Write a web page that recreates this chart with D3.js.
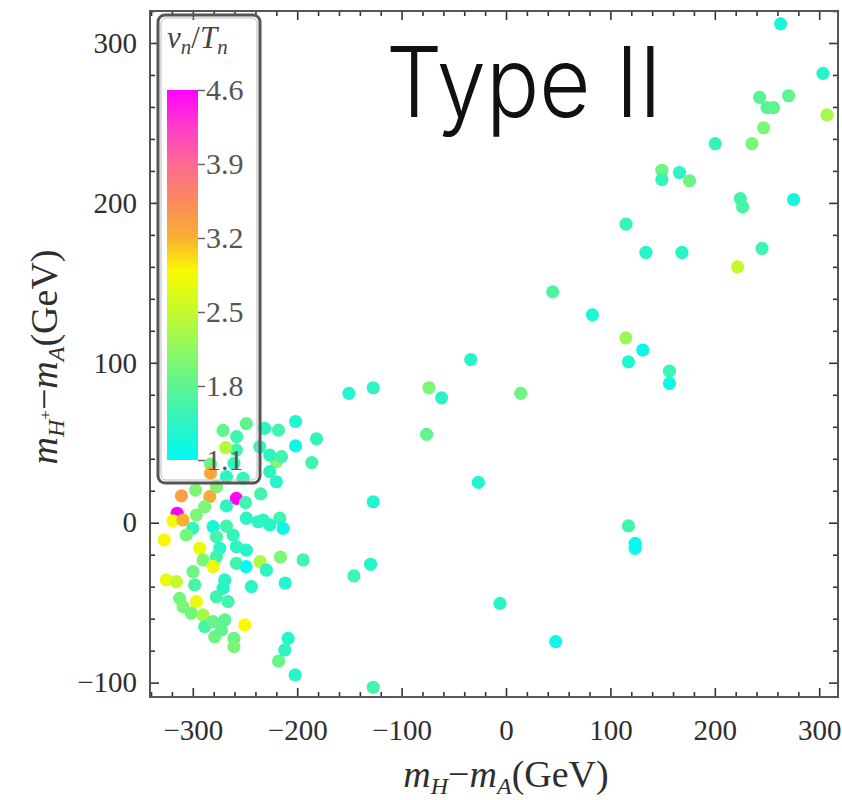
<!DOCTYPE html>
<html>
<head>
<meta charset="utf-8">
<script src="https://cdn.jsdelivr.net/npm/d3@7"></script>
<style>
  html, body { margin: 0; padding: 0; background: #fff; }
  svg { display: block; }
</style>
</head>
<body>
<svg id="chart" width="842" height="800"></svg>
<script>
// m_H - m_A (GeV)
const massSplitHA = [
  263, 303.6, 307.5, 242.9, 270.7, 250, 256.3, 246.7, 200.4, 235.6,
  149.3, 149.3, 166.2, 175.8, 224.4, 226.6, 275.5, 115, 134, 168.5,
  245.2, 221.8, 44.7, 82.7, 114.8, 131, 117.3, 156.6, 156.6, -33.8,
  -150.5, -127.2, -73.8, -61.7, 14.1, -76, -26.5, -127.2, 117.3, 123.7,
  123.7, -129.7, -145.7, -5.8, 47.6, -127.2,
  -201.6, -181.5, -201.6, -186, -218, -231.1, -248.7, -271, -258, -258.3,
  -235.9, -220, -226.3, -215, -226.3, -220, -268.5, -283, -260.6, -267.8,
  -251.8, -283, -277.4, -297.4, -310.9, -283.8, -258.3, -267.8, -249.5, -235,
  -288.6, -296.6, -315, -319, -309.4, -300, -280.6, -267.8, -248.7, -232.7,
  -216.7, -213.5, -226.3, -237.5, -306.2, -327.3, -293.4, -277.4, -261.4, -274.2,
  -258.3, -248.7, -290.2, -277.4, -280.6, -258.3, -249, -235.5, -229.5, -216,
  -194.3, -243.9, -211.5, -299.8, -325.3, -315.7, -298.2, -269.4, -271, -312.6,
  -296.6, -277.4, -266.2, -309.4, -301.4, -290.2, -288.6, -280.6, -269.4, -250.2,
  -279, -272.6, -260.6, -260.6, -208.7, -211.9, -217.8, -202
];

// m_{H+} - m_A (GeV)
const massSplitHcA = [
  312, 281, 255, 266, 267, 259.6, 259.6, 247, 237, 237,
  220.4, 214.6, 219, 213.8, 202.7, 197.5, 202, 186.7, 169, 169,
  171.5, 160, 144.4, 130, 115.6, 108, 100.6, 94.8, 87.1, 102,
  80.9, 84.4, 84.4, 78.1, 80.9, 55.2, 25.2, 13.1, -2, -12.9,
  -16, -26, -33.3, -50.4, -74.4, -102.9,
  63.3, 52.5, 48, 37.6, 57.9, 59, 62, 57.7, 53.8, 45.4,
  47.5, 38.1, 42.3, 41.3, 31.9, 25.6, 47, 36.6, 37.1, 28.8,
  27.8, 31, 22.5, 20.4, 16.8, 16.3, 15.2, 10.5, 12.6, 18,
  10, 4.8, 5.9, 1.2, 1.7, -3.5, -2.5, -2.1, 2.8, 1.7,
  2.8, -3.5, -1.4, 0.6, -7.7, -10.8, -16, -8.8, -7.7, -16,
  -15, -17.1, -23.3, -21.3, -27.5, -25.4, -27.5, -24.4, -29.6, -21.5,
  -23.3, -40, -37.7, -30.6, -35.8, -36.9, -38.9, -35.8, -41, -47.3,
  -49.4, -46.3, -49.4, -52.5, -56.6, -57.7, -65, -61.9, -60.8, -63.9,
  -71.3, -67.1, -72.3, -77.5, -72.3, -79.6, -86.6, -95.2
];

// v_n / T_n
const strength = [
  1.3, 1.4, 2.3, 1.75, 1.8, 1.75, 1.8, 2.0, 1.5, 2.0,
  1.9, 1.5, 1.45, 1.9, 1.6, 1.65, 1.25, 1.5, 1.4, 1.4,
  1.55, 2.5, 1.7, 1.3, 2.2, 1.2, 1.35, 1.55, 1.2, 1.4,
  1.35, 1.45, 2.0, 1.4, 1.9, 1.8, 1.35, 1.35, 1.6, 1.15,
  1.15, 1.4, 1.55, 1.4, 1.2, 1.6,
  1.35, 1.5, 1.2, 1.6, 1.6, 1.45, 1.8, 1.8, 1.6, 1.6,
  1.5, 2.1, 1.45, 1.6, 1.45, 1.4, 2.4, 1.9, 1.5, 1.45,
  1.5, 3.3, 2.0, 2.0, 3.35, 3.25, 4.55, 1.45, 1.55, 1.6,
  2.0, 2.0, 4.6, 2.85, 3.2, 1.5, 1.3, 1.6, 1.45, 1.45,
  1.55, 1.2, 1.4, 1.45, 1.95, 2.9, 2.8, 1.6, 1.5, 1.4,
  1.45, 1.4, 2.0, 1.6, 2.8, 1.6, 1.15, 2.35, 1.45, 2.0,
  1.6, 1.4, 1.35, 1.9, 2.8, 2.5, 1.65, 1.45, 1.4, 1.95,
  2.8, 1.6, 1.6, 2.0, 1.95, 2.3, 1.65, 1.85, 1.8, 2.85,
  1.9, 1.8, 1.9, 2.0, 1.4, 1.45, 1.85, 1.4
];

const xTicks = [-300, -200, -100, 0, 100, 200, 300];
const yTicks = [-100, 0, 100, 200, 300];
const barTicks = [1.1, 1.8, 2.5, 3.2, 3.9, 4.6];

// colour ramp for v_n/T_n
const rampValues = [1.1, 1.45, 1.8, 2.15, 2.5, 2.88, 3.2, 3.55, 3.9, 4.25, 4.6];
const rampColors = ["#00faf4", "#2ef4c2", "#5ef490", "#90f862", "#c4fa2c", "#fafa00",
                    "#f8b032", "#fa8a5c", "#ff6a92", "#ff3ec8", "#ff00ff"];

const svg = d3.select("#chart");
const plotL = 150, plotR = 838, plotT = 11, plotB = 697;

const x = d3.scaleLinear().domain([-341, 318]).range([plotL, plotR]);
const y = d3.scaleLinear().domain([-109, 320]).range([plotB, plotT]);
const color = d3.scaleLinear().domain(rampValues).range(rampColors).clamp(true);

const serif = "'Liberation Serif', 'Times New Roman', 'DejaVu Serif', serif";

// data points
const points = massSplitHA.map((d, i) => ({ dx: d, dy: massSplitHcA[i], v: strength[i] }));
svg.append("g")
  .selectAll("circle")
  .data(points)
  .join("circle")
  .attr("cx", d => x(d.dx))
  .attr("cy", d => y(d.dy))
  .attr("r", 6.6)
  .attr("fill", d => color(d.v));

// frame ticks (inward, on all four sides)
const minorOf = (lo, hi, step, majors) => d3.range(lo, hi + 0.001, step).filter(v => !majors.includes(v));
const xMinor = minorOf(-340, 300, 20, xTicks);
const yMinor = minorOf(-100, 320, 20, yTicks);

function styleAxis(g) {
  g.select(".domain").remove();
  g.selectAll("line").attr("stroke", "#333").attr("stroke-width", 1.6);
  g.selectAll("text").attr("font-family", serif).attr("font-size", 29).attr("fill", "#2e2e2e");
}

svg.append("g").attr("transform", `translate(0,${plotB})`)
  .call(d3.axisBottom(x).tickValues(xTicks).tickSize(-9).tickPadding(22))
  .call(styleAxis);
svg.append("g").attr("transform", `translate(0,${plotB})`)
  .call(d3.axisBottom(x).tickValues(xMinor).tickSize(-5).tickFormat(""))
  .call(styleAxis);
svg.append("g").attr("transform", `translate(0,${plotT})`)
  .call(d3.axisTop(x).tickValues(xTicks).tickSize(-9).tickFormat(""))
  .call(styleAxis);
svg.append("g").attr("transform", `translate(0,${plotT})`)
  .call(d3.axisTop(x).tickValues(xMinor).tickSize(-5).tickFormat(""))
  .call(styleAxis);

svg.append("g").attr("transform", `translate(${plotL},0)`)
  .call(d3.axisLeft(y).tickValues(yTicks).tickSize(-9).tickPadding(13))
  .call(styleAxis);
svg.append("g").attr("transform", `translate(${plotL},0)`)
  .call(d3.axisLeft(y).tickValues(yMinor).tickSize(-5).tickFormat(""))
  .call(styleAxis);
svg.append("g").attr("transform", `translate(${plotR},0)`)
  .call(d3.axisRight(y).tickValues(yTicks).tickSize(-9).tickFormat(""))
  .call(styleAxis);
svg.append("g").attr("transform", `translate(${plotR},0)`)
  .call(d3.axisRight(y).tickValues(yMinor).tickSize(-5).tickFormat(""))
  .call(styleAxis);

// frame
svg.append("rect")
  .attr("x", plotL).attr("y", plotT)
  .attr("width", plotR - plotL).attr("height", plotB - plotT)
  .attr("fill", "none").attr("stroke", "#555").attr("stroke-width", 2);

// axis titles
const xTitle = svg.append("text")
  .attr("x", 506).attr("y", 787)
  .attr("text-anchor", "middle")
  .attr("font-family", serif).attr("font-size", 38).attr("fill", "#2e2e2e");
xTitle.append("tspan").attr("font-style", "italic").text("m");
xTitle.append("tspan").attr("font-style", "italic").attr("font-size", 24).attr("dy", 7).text("H");
xTitle.append("tspan").attr("dy", -7).text("\u2212");
xTitle.append("tspan").attr("font-style", "italic").text("m");
xTitle.append("tspan").attr("font-style", "italic").attr("font-size", 24).attr("dy", 7).text("A");
xTitle.append("tspan").attr("dy", -7).text("(GeV)");

const yTitle = svg.append("text")
  .attr("transform", "translate(57,357) rotate(-90)")
  .attr("text-anchor", "middle")
  .attr("font-family", serif).attr("font-size", 38).attr("fill", "#2e2e2e");
yTitle.append("tspan").attr("font-style", "italic").text("m");
yTitle.append("tspan").attr("font-style", "italic").attr("font-size", 24).attr("dy", 7).text("H");
yTitle.append("tspan").attr("font-size", 17).attr("dy", -13).text("+");
yTitle.append("tspan").attr("dy", 6).text("\u2212");
yTitle.append("tspan").attr("font-style", "italic").text("m");
yTitle.append("tspan").attr("font-style", "italic").attr("font-size", 24).attr("dy", 7).text("A");
yTitle.append("tspan").attr("dy", -7).text("(GeV)");

// panel label
svg.append("text")
  .attr("x", 386).attr("y", 117)
  .attr("font-family", "Inter, Roboto, 'Open Sans', sans-serif")
  .attr("font-weight", 300)
  .attr("font-size", 98)
  .attr("textLength", 276)
  .attr("lengthAdjust", "spacingAndGlyphs")
  .attr("fill", "#111")
  .text("Type II");

// colour bar legend
const barTop = 90, barBottom = 460, barLeft = 167, barRight = 198;
const cb = d3.scaleLinear().domain([1.1, 4.6]).range([barBottom, barTop]);

const grad = svg.append("defs").append("linearGradient")
  .attr("id", "vnGrad").attr("x1", 0).attr("y1", 1).attr("x2", 0).attr("y2", 0);
grad.selectAll("stop")
  .data(rampValues)
  .join("stop")
  .attr("offset", d => (d - 1.1) / 3.5)
  .attr("stop-color", d => color(d));

const legend = svg.append("g");
legend.append("rect")
  .attr("x", 158).attr("y", 15).attr("width", 102).attr("height", 468)
  .attr("rx", 7)
  .attr("fill", "none").attr("stroke", "#555").attr("stroke-width", 3);
legend.append("rect")
  .attr("x", 161).attr("y", 18).attr("width", 96).attr("height", 462)
  .attr("rx", 5)
  .attr("fill", "none").attr("stroke", "#bbb").attr("stroke-width", 1);

legend.append("rect")
  .attr("x", barLeft).attr("y", barTop)
  .attr("width", barRight - barLeft).attr("height", barBottom - barTop)
  .attr("fill", "url(#vnGrad)");

legend.append("g").attr("transform", `translate(${barRight},0)`)
  .call(d3.axisRight(cb).tickValues(barTicks).tickSize(7).tickPadding(1).tickFormat(d3.format(".1f")))
  .call(g => {
    g.select(".domain").remove();
    g.selectAll("line").attr("stroke", "#666").attr("stroke-width", 1.5);
    g.selectAll("text").attr("font-family", serif).attr("font-size", 30).attr("fill", "#555");
  });

const lt = legend.append("text")
  .attr("x", 167).attr("y", 48)
  .attr("font-family", serif).attr("font-size", 31).attr("fill", "#444");
lt.append("tspan").attr("font-style", "italic").text("v");
lt.append("tspan").attr("font-style", "italic").attr("font-size", 21).attr("dy", 6).text("n");
lt.append("tspan").attr("dy", -6).text("/");
lt.append("tspan").attr("font-style", "italic").text("T");
lt.append("tspan").attr("font-style", "italic").attr("font-size", 21).attr("dy", 6).text("n");
</script>
</body>
</html>
